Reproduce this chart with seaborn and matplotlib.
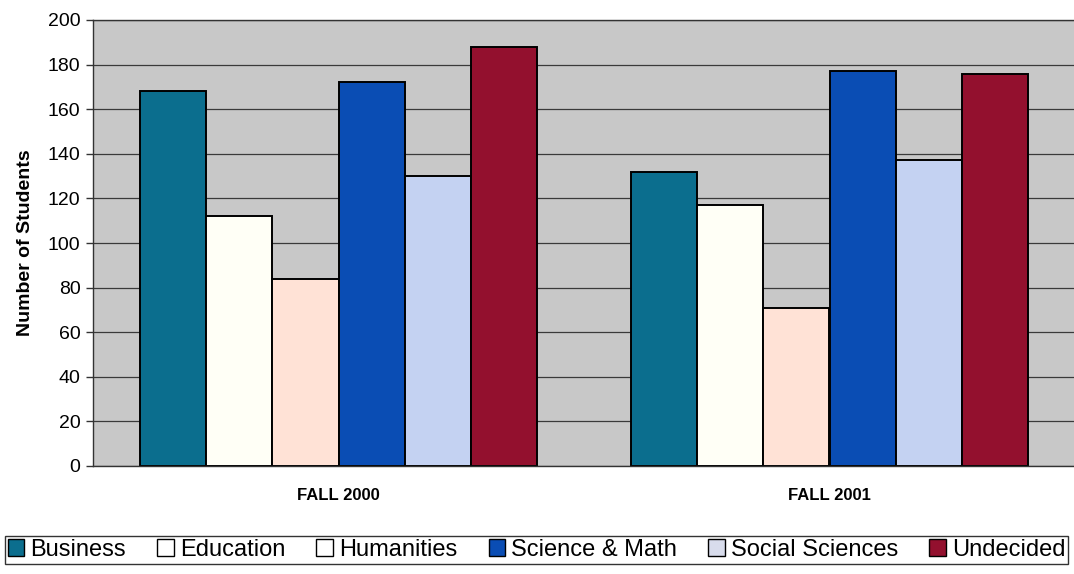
import matplotlib
matplotlib.use("Agg")
import matplotlib.pyplot as plt
from matplotlib.patches import Patch
import seaborn as sns
import pandas as pd

terms = ["FALL 2000", "FALL 2001"]
majors = ["Business", "Education", "Humanities", "Science & Math", "Social Sciences", "Undecided"]
fall_2000 = [168, 112, 84, 172, 130, 188]
fall_2001 = [132, 117, 71, 177, 137, 176]
bar_colors = ["#0B6E8E", "#FFFFF6", "#FFE2D6", "#0A4DB4", "#C4D2F2", "#93102E"]
legend_colors = ["#0B6E8E", "#FFFFFF", "#FFFFFF", "#0A4DB4", "#D8DCEC", "#93102E"]
y_ticks = [0, 20, 40, 60, 80, 100, 120, 140, 160, 180, 200]

rows = []
for t, vals in zip(terms, [fall_2000, fall_2001]):
    for m, v in zip(majors, vals):
        rows.append({"term": t, "major": m, "students": v})
df = pd.DataFrame(rows)

sns.set_theme(style="white")
plt.rcParams["font.family"] = ["Liberation Sans", "DejaVu Sans"]
plt.rcParams["text.color"] = "black"
plt.rcParams["axes.labelcolor"] = "black"
plt.rcParams["xtick.color"] = "black"
plt.rcParams["ytick.color"] = "black"

fig = plt.figure(figsize=(10.74, 5.74), dpi=100)
ax = fig.add_axes([93 / 1074, 1 - 466 / 574, 982 / 1074, 446 / 574])
ax.set_facecolor("#C8C8C8")

sns.barplot(data=df, x="term", y="students", hue="major", hue_order=majors,
            palette=bar_colors, width=0.81, edgecolor="black", linewidth=1.4,
            saturation=1, ax=ax, legend=False)

ax.set_xlim(-0.5, 1.5)
ax.set_ylim(0, 200)
ax.set_yticks(y_ticks)
ax.set_yticklabels([str(v) for v in y_ticks], fontsize=14)
ax.yaxis.grid(True, color="#3A3A3A", linewidth=0.9)
ax.set_axisbelow(True)

ax.set_xticks([0, 1])
ax.set_xticklabels(terms, fontsize=12, fontweight="bold")
ax.set_xticks([-0.5, 0.5, 1.5], minor=True)
ax.tick_params(axis="x", which="major", length=0, pad=16)
ax.tick_params(axis="x", which="minor", length=5, width=1, color="#333333", direction="out")
ax.tick_params(axis="y", which="major", length=5, width=1, color="#333333", direction="out", pad=4, left=True)

ax.set_xlabel("")
ax.set_ylabel("Number of Students", fontsize=14, fontweight="bold", labelpad=10)

for side in ["left", "bottom", "top"]:
    ax.spines[side].set_visible(True)
    ax.spines[side].set_color("#333333")
    ax.spines[side].set_linewidth(1.0)
ax.spines["right"].set_visible(False)

handles = [Patch(facecolor=c, edgecolor="black", linewidth=1.0) for c in legend_colors]
leg = fig.legend(handles, majors, loc="center", ncol=6, mode="expand",
                 bbox_to_anchor=(5 / 1074, 1 - 567 / 574, 1063 / 1074, 34 / 574),
                 frameon=True, fancybox=False, edgecolor="black", fontsize=17,
                 handlelength=0.7, handleheight=0.7, handletextpad=0.25,
                 columnspacing=0.3, borderpad=0.12, borderaxespad=0)
leg.get_frame().set_linewidth(1.0)

fig.savefig("out.png", dpi=100, facecolor="white")
